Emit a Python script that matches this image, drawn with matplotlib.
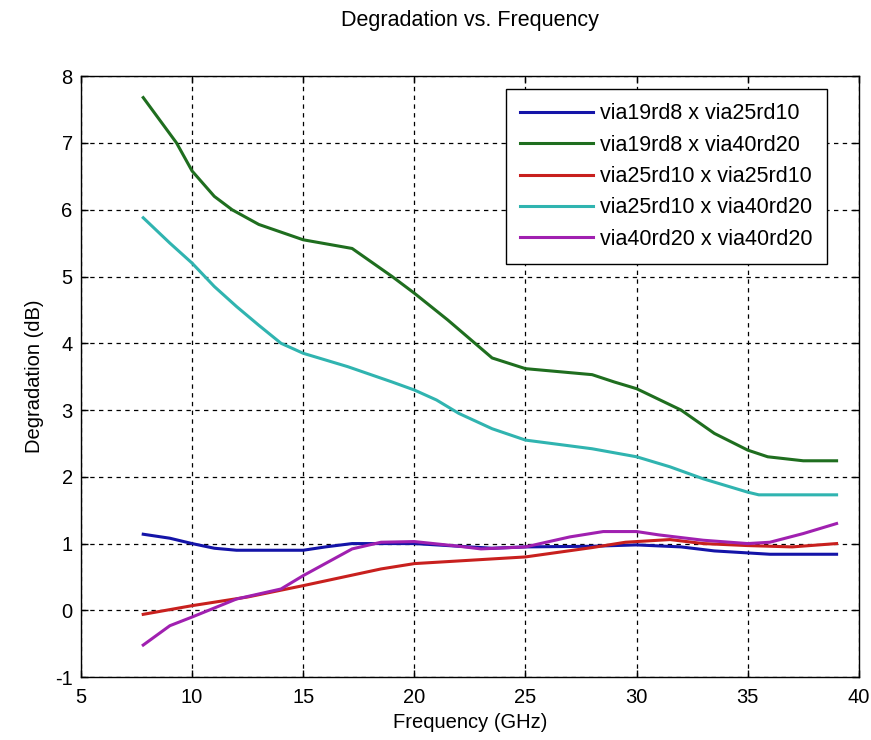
import matplotlib
matplotlib.use("Agg")
import matplotlib.pyplot as plt

plt.rcParams['font.family'] = ['Liberation Sans', 'DejaVu Sans']
plt.rcParams['axes.unicode_minus'] = False

# Degradation (dB) vs. frequency (GHz) for each via pairing
labels = [
    "via19rd8 x via25rd10",
    "via19rd8 x via40rd20",
    "via25rd10 x via25rd10",
    "via25rd10 x via40rd20",
    "via40rd20 x via40rd20",
]

freq_19_25 = [7.8, 9, 10, 11, 12, 15, 16, 17.2, 20, 22, 23.5, 25, 28, 30, 32, 33.5, 35, 36, 39]
deg_19_25 = [1.14, 1.08, 1.0, 0.93, 0.90, 0.90, 0.95, 1.0, 1.0, 0.96, 0.93, 0.95, 0.96, 0.98,
             0.95, 0.89, 0.86, 0.84, 0.84]

freq_19_40 = [7.8, 9.3, 10, 11, 11.8, 13, 15, 17.2, 19, 20, 21.5, 23.5, 25, 28, 29, 30, 32,
              33.5, 35, 35.9, 37.5, 39]
deg_19_40 = [7.68, 7.0, 6.58, 6.2, 6.0, 5.78, 5.55, 5.42, 5.0, 4.75, 4.35, 3.78, 3.62, 3.53,
             3.42, 3.32, 3.0, 2.65, 2.40, 2.30, 2.24, 2.24]

freq_25_25 = [7.8, 10, 12.5, 15, 18.5, 20, 22, 25, 28, 29.5, 31.5, 33, 35, 37, 39]
deg_25_25 = [-0.06, 0.07, 0.2, 0.37, 0.62, 0.70, 0.74, 0.80, 0.94, 1.02, 1.06, 1.0, 0.97,
             0.95, 1.0]

freq_25_40 = [7.8, 9, 10, 11, 12, 13, 14, 15, 17, 19, 20, 21, 22, 23.5, 25, 28, 30, 31.5,
              33, 35, 35.5, 39]
deg_25_40 = [5.88, 5.5, 5.2, 4.85, 4.55, 4.27, 4.0, 3.85, 3.65, 3.42, 3.30, 3.15, 2.95, 2.72,
             2.55, 2.42, 2.30, 2.15, 1.97, 1.77, 1.73, 1.73]

freq_40_40 = [7.8, 9, 10, 12, 14, 15, 17.2, 18.5, 20, 22, 23, 25, 27, 28.5, 30, 31, 33, 35,
              36, 37.5, 39]
deg_40_40 = [-0.52, -0.23, -0.1, 0.17, 0.32, 0.52, 0.92, 1.02, 1.03, 0.96, 0.92, 0.95, 1.1,
             1.18, 1.18, 1.13, 1.05, 1.0, 1.02, 1.15, 1.3]

series = [
    (freq_19_25, deg_19_25, "#1414a8"),
    (freq_19_40, deg_19_40, "#1f6e1f"),
    (freq_25_25, deg_25_25, "#c8201e"),
    (freq_25_40, deg_25_40, "#30b4b0"),
    (freq_40_40, deg_40_40, "#a020b0"),
]

fig = plt.figure(figsize=(8.71, 7.40), dpi=100)
ax = fig.add_axes([0.093, 0.085, 0.893, 0.812])

for (x, y, c), lab in zip(series, labels):
    ax.plot(x, y, color=c, lw=2.2, label=lab)

ax.set_xlim(5, 40)
ax.set_ylim(-1, 8)
ax.set_xticks(range(5, 41, 5))
ax.set_yticks(range(-1, 9))

ax.grid(True, color="black", linestyle=(0, (3.5, 3.5)), linewidth=0.9)
ax.tick_params(direction="in", top=True, right=True, length=5, width=1,
               labelsize=14.5, pad=8)
ax.tick_params(axis="y", pad=6)
for s in ax.spines.values():
    s.set_linewidth(1.0)

ax.set_xlabel("Frequency (GHz)", fontsize=14.5, labelpad=4)
ax.set_ylabel("Degradation (dB)", fontsize=14.5, labelpad=8)
ax.set_title("Degradation vs. Frequency", fontsize=15.5, pad=36)

leg = ax.legend(loc="upper right", bbox_to_anchor=(0.959, 0.978), borderaxespad=0,
                fancybox=False, framealpha=1, edgecolor="black", fontsize=15.5,
                handlelength=3.4, handletextpad=0.35, labelspacing=0.48,
                borderpad=0.65)
leg.get_frame().set_linewidth(1.0)

fig.savefig("out.png", dpi=100)
